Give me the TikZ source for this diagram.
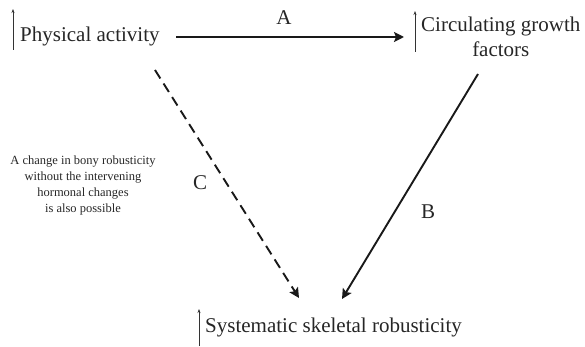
\documentclass[tikz,border=0pt]{standalone}
\usepackage{fontspec}
\setmainfont{Liberation Serif}
\usetikzlibrary{arrows.meta}
\begin{document}
\begin{tikzpicture}[x=1pt,y=-1pt,
  lbl/.style={inner sep=0pt,font=\fontsize{21}{25}\selectfont,text=black!85},
  small/.style={inner sep=0pt,font=\fontsize{12.5}{16}\selectfont,align=center,text=black!85},
  conn/.style={line width=1.9pt,-{Stealth[length=10pt,width=10pt,inset=2pt]},black!90},
  up/.style={line width=0.6pt,-{Stealth[length=4pt,width=3pt]},black!80}]
\useasboundingbox (0,0) rectangle (585,347);
\node[lbl,anchor=west] (pa) at (20,36) {Physical activity};
\node[lbl,anchor=west,align=center] (cg) at (421,37) {Circulating growth\\factors};
\node[lbl,anchor=west] (ss) at (205,327) {Systematic skeletal robusticity};
\coordinate (pa1) at (13,50); \coordinate (pa2) at (13,9);
\coordinate (cg1) at (415,52); \coordinate (cg2) at (415,11);
\coordinate (ss1) at (199,346); \coordinate (ss2) at (199,309);
\draw[up] (pa1) -- (pa2);
\draw[up] (cg1) -- (cg2);
\draw[up] (ss1) -- (ss2);
\coordinate (aS) at (176,37); \coordinate (aE) at (404,37);
\coordinate (bS) at (478,74); \coordinate (bE) at (342,299);
\coordinate (cS) at (155,70); \coordinate (cE) at (299,298);
\draw[conn] (aS) -- (aE);
\draw[conn] (bS) -- (bE);
\draw[conn,dash pattern=on 10pt off 6pt] (cS) -- (cE);
\node[lbl] (A) at (284,18) {A};
\node[lbl] (B) at (428,212) {B};
\node[lbl] (C) at (200,183) {C};
\node[small] (note) at (83,185) {A change in bony robusticity\\without the intervening\\hormonal changes\\is also possible};
\end{tikzpicture}
\end{document}
